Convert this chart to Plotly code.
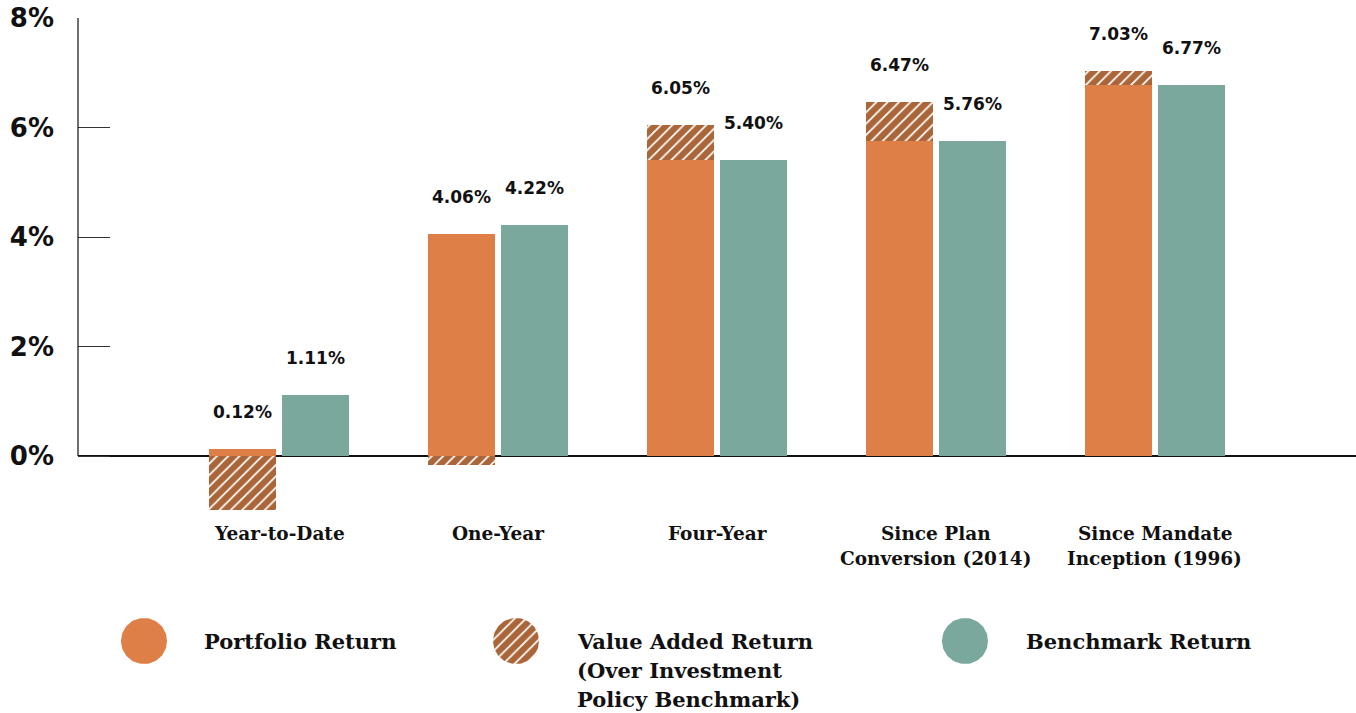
import numpy as np
import plotly.graph_objects as go

# ---------------- data ----------------
categories = ["Year-to-Date", "One-Year", "Four-Year",
              "Since Plan<br>Conversion (2014)", "Since Mandate<br>Inception (1996)"]
portfolio = [0.12, 4.06, 6.05, 6.47, 7.03]
benchmark = [1.11, 4.22, 5.40, 5.76, 6.77]
y_ticks = [0, 2, 4, 6, 8]
y_tick_labels = ["0%", "2%", "4%", "6%", "8%"]
legend_labels = ["Portfolio Return",
                 "Value Added Return<br>(Over Investment<br>Policy Benchmark)",
                 "Benchmark Return"]

# ---------------- styles ----------------
ORANGE = "#DE7F47"
GREEN = "#7BA89D"
BROWN = "#AA6538"
SANS = "DejaVu Sans"
SERIF = "DejaVu Serif"

W, H = 1356, 713
ML, MT = 78, 18
plot_h = H - MT
zero_px, top_px = 456, 18
px_per = (zero_px - top_px) / 8.0
ymin = -1.4
bottom_px = zero_px - ymin * px_per
dom0 = (H - bottom_px) / plot_h

idx = np.arange(len(categories))
off, bw = 0.1667, 0.303
va = [p - b for p, b in zip(portfolio, benchmark)]
orange_val = [b if v > 0 else p for p, b, v in zip(portfolio, benchmark, va)]
hatch_base = [b if v > 0 else 0 for b, v in zip(benchmark, va)]

fig = go.Figure()
fig.add_trace(go.Bar(x=idx - off, y=orange_val, width=bw, marker=dict(color=ORANGE, line=dict(width=0)),
                     xaxis="x", yaxis="y", hoverinfo="skip"))
fig.add_trace(go.Bar(x=idx - off, y=va, base=hatch_base, width=bw,
                     marker=dict(color=BROWN, line=dict(width=0),
                                 pattern=dict(shape="/", fgcolor="white", bgcolor=BROWN,
                                              size=8, solidity=0.22, fillmode="replace")),
                     xaxis="x", yaxis="y", hoverinfo="skip"))
fig.add_trace(go.Bar(x=idx + off, y=benchmark, width=bw, marker=dict(color=GREEN, line=dict(width=0)),
                     xaxis="x", yaxis="y", hoverinfo="skip"))

annotations = []
for i in idx:
    annotations.append(dict(x=i - off, y=portfolio[i], xref="x", yref="y", yshift=37,
                            text=f"{portfolio[i]:.2f}%", showarrow=False,
                            font=dict(family=SANS, size=17, color="#111", weight="bold")))
    annotations.append(dict(x=i + off, y=benchmark[i], xref="x", yref="y", yshift=37,
                            text=f"{benchmark[i]:.2f}%", showarrow=False,
                            font=dict(family=SANS, size=17, color="#111", weight="bold")))
    for k, line in enumerate(categories[i].split("<br>")):
        annotations.append(dict(x=i, y=0, xref="x", yref="y", yshift=-(77 + 25 * k),
                                text=line, showarrow=False, yanchor="middle",
                                font=dict(family=SERIF, size=18.5, color="#111", weight="bold")))

# legend (custom, in pixel-coordinate helper axes)
leg_top = 580
leg_dom = (H - leg_top) / plot_h
leg_centers = [144, 516, 965]
leg_text_x = [202, 575, 1024]
leg_fill = [dict(fillcolor=ORANGE), dict(fillcolor=BROWN,
            fillpattern=dict(shape="/", fgcolor="white", bgcolor=BROWN, size=8,
                             solidity=0.22, fillmode="replace")), dict(fillcolor=GREEN)]
t = np.linspace(0, 2 * np.pi, 90)
r = 23
for cx, fs in zip(leg_centers, leg_fill):
    fig.add_trace(go.Scatter(x=cx + r * np.cos(t), y=641 + r * np.sin(t), mode="lines",
                             line=dict(width=0), fill="toself", xaxis="x2", yaxis="y2",
                             hoverinfo="skip", **fs))
for tx, lab in zip(leg_text_x, legend_labels):
    for k, line in enumerate(lab.split("<br>")):
        annotations.append(dict(x=tx, y=641 + 29 * k, xref="x2", yref="y2", text=line,
                                showarrow=False, xanchor="left", yanchor="middle",
                                font=dict(family=SERIF, size=21, color="#111", weight="bold")))

shapes = [dict(type="line", xref="paper", yref="y", x0=0, x1=0, y0=0, y1=8,
               line=dict(color="#222", width=1.3), layer="above")]

fig.update_layout(
    width=W, height=H, margin=dict(l=ML, r=0, t=MT, b=0),
    paper_bgcolor="white", plot_bgcolor="rgba(0,0,0,0)",
    barmode="overlay", showlegend=False, bargap=0,
    annotations=annotations, shapes=shapes,
    xaxis=dict(domain=[0, 1], range=[-0.918, 4.918], anchor="y", visible=False, fixedrange=True),
    yaxis=dict(domain=[dom0, 1], range=[ymin, 8], anchor="x",
               tickvals=y_ticks, ticktext=y_tick_labels, ticks="inside", ticklen=32,
               tickcolor="#333", tickwidth=1, showgrid=False, showline=False,
               zeroline=True, zerolinecolor="#111", zerolinewidth=2,
               tickfont=dict(family=SANS, size=26, color="#111", weight="bold"),
               ticklabelstandoff=23),
    xaxis2=dict(domain=[0, 1], range=[ML, W], anchor="y2", visible=False),
    yaxis2=dict(domain=[0, leg_dom], range=[H, leg_top], anchor="x2", visible=False),
)

fig.write_html("out.html")
